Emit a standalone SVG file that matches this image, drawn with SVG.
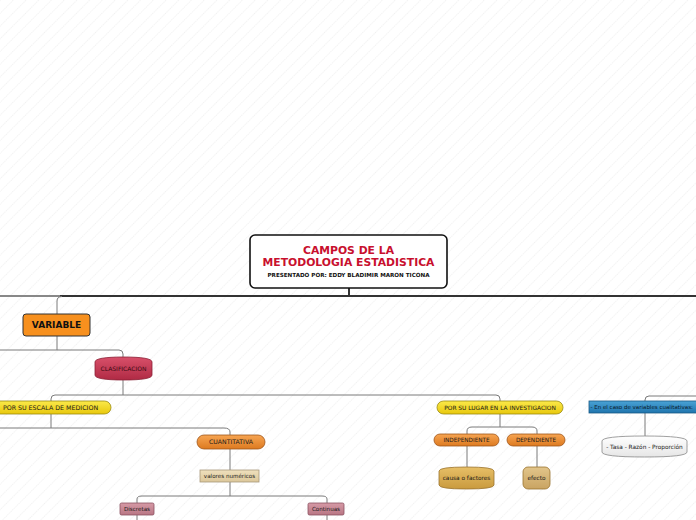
<svg xmlns="http://www.w3.org/2000/svg" width="696" height="520" viewBox="0 0 696 520">
<defs>
<pattern id="bg" width="9" height="9" patternUnits="userSpaceOnUse" patternTransform="rotate(45)">
<line x1="0" y1="0" x2="0" y2="9" stroke="#dedede" stroke-width="0.9" stroke-dasharray="1.2 1"/>
</pattern>
<linearGradient id="gYel" x1="0" y1="0" x2="0" y2="1"><stop offset="0" stop-color="#fbe94a"/><stop offset="1" stop-color="#e8c80c"/></linearGradient>
<linearGradient id="gOr" x1="0" y1="0" x2="0" y2="1"><stop offset="0" stop-color="#f7a552"/><stop offset="1" stop-color="#dd7a20"/></linearGradient>
<linearGradient id="gRed" x1="0" y1="0" x2="0" y2="1"><stop offset="0" stop-color="#d8506a"/><stop offset="1" stop-color="#b02a44"/></linearGradient>
<linearGradient id="gPink" x1="0" y1="0" x2="0" y2="1"><stop offset="0" stop-color="#d69aa6"/><stop offset="1" stop-color="#b87684"/></linearGradient>
<linearGradient id="gTan" x1="0" y1="0" x2="0" y2="1"><stop offset="0" stop-color="#efe0bd"/><stop offset="1" stop-color="#dcc79a"/></linearGradient>
<linearGradient id="gGold" x1="0" y1="0" x2="0" y2="1"><stop offset="0" stop-color="#e7bf67"/><stop offset="1" stop-color="#c99a3e"/></linearGradient>
<linearGradient id="gGold2" x1="0" y1="0" x2="0" y2="1"><stop offset="0" stop-color="#e2c58a"/><stop offset="1" stop-color="#c9a462"/></linearGradient>
<linearGradient id="gBlue" x1="0" y1="0" x2="0" y2="1"><stop offset="0" stop-color="#4aa3d6"/><stop offset="1" stop-color="#1f74ad"/></linearGradient>
<linearGradient id="gWhite" x1="0" y1="0" x2="0" y2="1"><stop offset="0" stop-color="#ffffff"/><stop offset="1" stop-color="#e6e6e6"/></linearGradient>
</defs>
<style>
text{font-family:"DejaVu Sans","Verdana",sans-serif;text-anchor:middle}
.c{fill:none;stroke:#7a7a7a;stroke-width:1}
.cm{fill:none;stroke:#333;stroke-width:2}
.s{font-size:6px;fill:#1a1a1a}
</style>
<rect width="696" height="520" fill="#fff"/>
<rect width="696" height="520" fill="url(#bg)"/>

<g id="connectors">
<path class="cm" d="M349 288 V296"/>
<path class="cm" d="M60 296 H696"/>
<path d="M0 296 H60" fill="none" stroke="#888" stroke-width="2"/>
<path class="c" d="M62 296.5 Q57 296.5 57 301 V314"/>
<path class="c" d="M57 336 V350"/>
<path class="c" d="M0 350 H119 Q123 350 123 354 V357"/>
<path class="c" d="M123 380 V395"/>
<path class="c" d="M55 395 Q51 395 51 399 V401"/>
<path class="c" d="M55 395 H496 Q500 395 500 399 V401"/>
<path class="c" d="M51 414 V428"/>
<path class="c" d="M0 428 H224 Q230 428 230 432 V435"/>
<path class="c" d="M230 449 V470"/>
<path class="c" d="M230 482 V496"/>
<path class="c" d="M137 503 V499 Q137 496 142 496 H322 Q327 496 327 499 V503"/>
<path class="c" d="M137 515 V520"/>
<path class="c" d="M327 515 V520"/>
<path class="c" d="M500 414 V427"/>
<path class="c" d="M467 434 V431 Q467 427 472 427 H532 Q537 427 537 431 V434"/>
<path class="c" d="M467 446 V467"/>
<path class="c" d="M537 446 V467"/>
<path class="c" d="M645 401 V400 Q645 396 649 396 H696"/>
<path class="c" d="M645 413 V436"/>
</g>

<g id="main">
<rect x="250" y="235" width="197" height="53" rx="5" fill="#fff" stroke="#111" stroke-width="1.6"/>
<text x="348.5" y="254" font-size="10.8" font-weight="bold" fill="#c8102e">CAMPOS DE LA</text>
<text x="348.5" y="266" font-size="10.8" font-weight="bold" fill="#c8102e">METODOLOGIA ESTADISTICA</text>
<text x="348.5" y="277" font-size="5.6" font-weight="bold" fill="#111">PRESENTADO POR: EDDY BLADIMIR MARON TICONA</text>
</g>

<g id="variable">
<rect x="23" y="314" width="67" height="22" rx="3" fill="#f7901e" stroke="#333" stroke-width="1"/>
<text x="56.5" y="328" font-size="9" font-weight="bold" fill="#111">VARIABLE</text>
</g>

<g id="clasificacion">
<path d="M95 362 Q95 357 123.5 357 Q152 357 152 362 V375 Q152 380 123.5 380 Q95 380 95 375 Z" fill="url(#gRed)" stroke="#8a2035" stroke-width="0.8"/>
<text x="123.5" y="371" class="s" style="font-size:6px;fill:#3a0a14">CLASIFICACION</text>
</g>

<g id="escala">
<rect x="-12" y="401" width="123" height="13" rx="6.5" fill="url(#gYel)" stroke="#9a8a10" stroke-width="0.8"/>
<text x="50.5" y="409.8" class="s" style="font-size:6.3px">POR SU ESCALA DE MEDICION</text>
</g>

<g id="cuantitativa">
<rect x="197" y="435" width="68" height="14" rx="7" fill="url(#gOr)" stroke="#a0561a" stroke-width="0.8"/>
<text x="231" y="444.2" class="s" style="font-size:6.2px">CUANTITATIVA</text>
</g>

<g id="valores">
<rect x="200" y="470" width="59" height="12" fill="url(#gTan)" stroke="#a8987a" stroke-width="0.8"/>
<text x="229.5" y="478" class="s" style="font-size:5.6px">valores numéricos</text>
</g>

<g id="discretas">
<rect x="120" y="503" width="34" height="12" rx="1.5" fill="url(#gPink)" stroke="#8a5060" stroke-width="0.8"/>
<text x="137" y="511" class="s" style="font-size:5.6px">Discretas</text>
</g>

<g id="continuas">
<rect x="308" y="503" width="36" height="12" rx="1.5" fill="url(#gPink)" stroke="#8a5060" stroke-width="0.8"/>
<text x="326" y="511" class="s" style="font-size:5.6px">Continuas</text>
</g>

<g id="lugar">
<rect x="437" y="401" width="126" height="13" rx="6.5" fill="url(#gYel)" stroke="#9a8a10" stroke-width="0.8"/>
<text x="500" y="409.8" class="s" style="font-size:5.9px">POR SU LUGAR EN LA INVESTIGACION</text>
</g>

<g id="independiente">
<rect x="434" y="434" width="65" height="12" rx="6" fill="url(#gOr)" stroke="#a0561a" stroke-width="0.8"/>
<text x="466.5" y="442" class="s" style="font-size:5.7px">INDEPENDIENTE</text>
</g>

<g id="dependiente">
<rect x="507" y="434" width="58" height="12" rx="6" fill="url(#gOr)" stroke="#a0561a" stroke-width="0.8"/>
<text x="536" y="442" class="s" style="font-size:5.7px">DEPENDIENTE</text>
</g>

<g id="causa">
<path d="M439 471 Q439 467 466.5 467 Q494 467 494 471 V485 Q494 489 466.5 489 Q439 489 439 485 Z" fill="url(#gGold)" stroke="#9a7430" stroke-width="0.8"/>
<text x="466.5" y="480" class="s" style="font-size:5.8px">causa o factores</text>
</g>

<g id="efecto">
<rect x="523" y="467" width="27" height="22" rx="5" fill="url(#gGold2)" stroke="#9a7430" stroke-width="0.8"/>
<text x="536.5" y="480" class="s" style="font-size:5.8px">efecto</text>
</g>

<g id="cualitativas">
<rect x="589" y="401" width="112" height="12" fill="url(#gBlue)" stroke="#1a5a85" stroke-width="0.8"/>
<text x="590.5" y="409" class="s" style="font-size:5.5px;text-anchor:start;fill:#0a1a2a">- En el caso de variables cualitativas:</text>
</g>

<g id="tasa">
<path d="M602 441 Q602 436 644.5 436 Q687 436 687 441 V452 Q687 457 644.5 457 Q602 457 602 452 Z" fill="url(#gWhite)" stroke="#888" stroke-width="0.8"/>
<text x="644.5" y="449" class="s" style="font-size:5.8px">- Tasa - Razón - Proporción</text>
</g>
</svg>
